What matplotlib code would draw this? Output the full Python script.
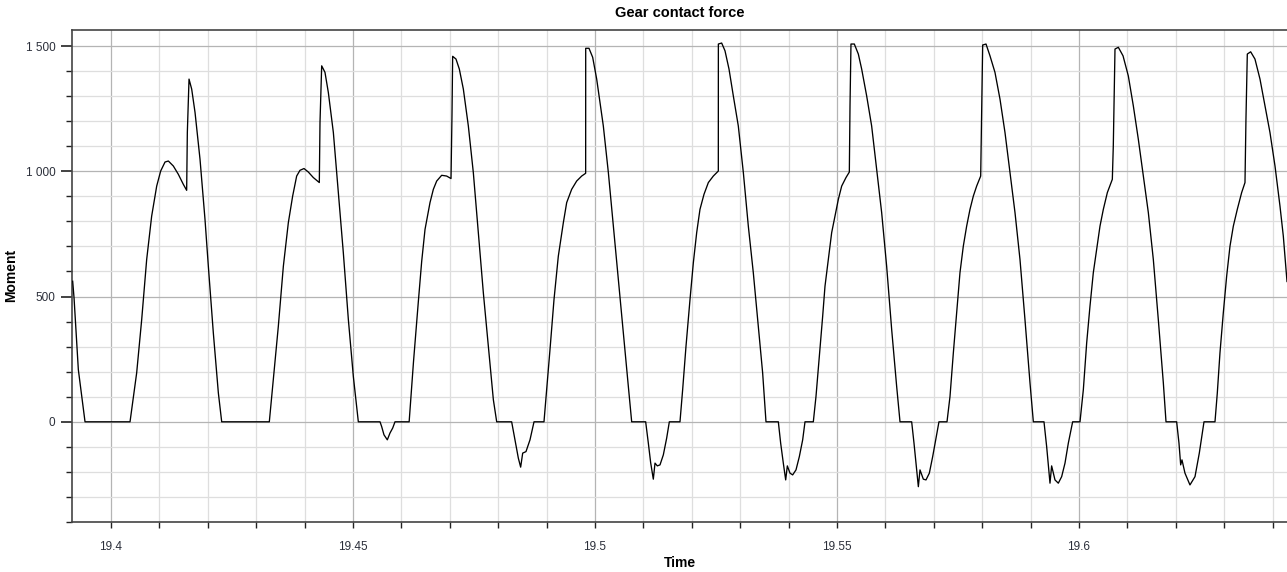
import matplotlib
matplotlib.use("Agg")
import matplotlib.pyplot as plt
from matplotlib.ticker import MultipleLocator, FuncFormatter

title = "Gear contact force"
x_label = "Time"
y_label = "Moment"

time = [
    19.39208, 19.39236, 19.39325, 19.39463, 19.40393, 19.40530, 19.40634, 19.40737, 19.40840, 19.40944,
    19.41026, 19.41116, 19.41185, 19.41288, 19.41391, 19.41494, 19.41563, 19.41577, 19.41612, 19.41667,
    19.41736, 19.41839, 19.41942, 19.42011, 19.42114, 19.42218, 19.42287,
    19.43271, 19.43354, 19.43457, 19.43561, 19.43664, 19.43753, 19.43836, 19.43905, 19.43988, 19.44077,
    19.44180, 19.44304, 19.44318, 19.44353, 19.44421, 19.44490, 19.44594, 19.44697, 19.44800, 19.44904,
    19.45007, 19.45110, 19.45558, 19.45592, 19.45640, 19.45709, 19.45764, 19.45820, 19.45868,
    19.46160, 19.46250, 19.46350, 19.46419, 19.46488, 19.46591, 19.46660, 19.46729, 19.46832, 19.46935,
    19.47025, 19.47045, 19.47059, 19.47128, 19.47197, 19.47280, 19.47383, 19.47486, 19.47590, 19.47693,
    19.47796, 19.47900, 19.47969, 19.48278, 19.48347, 19.48416, 19.48464, 19.48506, 19.48574, 19.48657,
    19.48740, 19.48946, 19.49002, 19.49070, 19.49153, 19.49242, 19.49346, 19.49415, 19.49518, 19.49621,
    19.49725, 19.49807, 19.49808, 19.49876, 19.49952, 19.50035, 19.50172, 19.50276, 19.50379, 19.50482,
    19.50586, 19.50689, 19.50758, 19.51047, 19.51102, 19.51150, 19.51205, 19.51240, 19.51288, 19.51343,
    19.51412, 19.51481, 19.51536, 19.51756, 19.51811, 19.51880, 19.51963, 19.52032, 19.52101, 19.52169,
    19.52252, 19.52342, 19.52445, 19.52548, 19.52549, 19.52617, 19.52686, 19.52769, 19.52858, 19.52961,
    19.53065, 19.53168, 19.53271, 19.53375, 19.53464, 19.53533, 19.53788, 19.53836, 19.53891, 19.53940,
    19.53974, 19.54029, 19.54084, 19.54153, 19.54222, 19.54291, 19.54339, 19.54511, 19.54566, 19.54635,
    19.54704, 19.54752, 19.54821, 19.54890, 19.54959, 19.55028, 19.55097, 19.55186, 19.55255, 19.55269,
    19.55289, 19.55358, 19.55441, 19.55510, 19.55613, 19.55716, 19.55820, 19.55923, 19.56026, 19.56130,
    19.56233, 19.56302, 19.56543, 19.56591, 19.56646, 19.56681, 19.56715, 19.56784, 19.56839, 19.56908,
    19.56977, 19.57045, 19.57107, 19.57273, 19.57335, 19.57404, 19.57473, 19.57541, 19.57610, 19.57679,
    19.57748, 19.57817, 19.57886, 19.57969, 19.57989, 19.58010, 19.58079, 19.58161, 19.58264, 19.58368,
    19.58471, 19.58574, 19.58678, 19.58781, 19.58884, 19.58988, 19.59057, 19.59277, 19.59332, 19.59401,
    19.59435, 19.59504, 19.59573, 19.59642, 19.59711, 19.59780, 19.59869, 19.60021, 19.60090, 19.60159,
    19.60227, 19.60296, 19.60365, 19.60434, 19.60503, 19.60586, 19.60689, 19.60709, 19.60744, 19.60813,
    19.60910, 19.61019, 19.61123, 19.61226, 19.61329, 19.61433, 19.61536, 19.61639, 19.61743, 19.61798,
    19.62018, 19.62066, 19.62101, 19.62128, 19.62190, 19.62293, 19.62397, 19.62486, 19.62583, 19.62810,
    19.62858, 19.62913, 19.62982, 19.63051, 19.63120, 19.63189, 19.63271, 19.63361, 19.63430, 19.63450,
    19.63478, 19.63547, 19.63636, 19.63740, 19.63843, 19.63946, 19.64050, 19.64153, 19.64222, 19.64298,
]

moment = [
    561, 495, 208, 0, 0, 195, 408, 648, 821, 941,
    1001, 1037, 1041, 1021, 988, 948, 924, 1155, 1368, 1328,
    1235, 1048, 808, 621, 355, 115, 0,
    0, 168, 381, 621, 795, 901, 981, 1004, 1011, 997,
    975, 955, 1195, 1421, 1395, 1315, 1155, 915, 675, 408,
    181, 0, 0, -19, -52, -72, -45, -25, 0,
    0, 240, 480, 640, 768, 875, 928, 961, 984, 981,
    971, 1221, 1459, 1448, 1408, 1328, 1181, 995, 755, 515,
    301, 88, 0, 0, -72, -145, -181, -125, -119, -72,
    0, 0, 128, 288, 488, 661, 795, 875, 928, 961,
    981, 992, 1491, 1491, 1455, 1368, 1181, 995, 781, 568,
    355, 141, 0, 0, -85, -163, -229, -165, -176, -172,
    -132, -65, 0, 0, 128, 301, 488, 635, 755, 848,
    908, 955, 981, 1001, 1508, 1512, 1481, 1408, 1301, 1181,
    995, 781, 595, 381, 195, 0, 0, -85, -165, -232,
    -176, -205, -212, -192, -139, -72, 0, 0, 101, 261,
    421, 541, 648, 755, 821, 888, 941, 975, 997, 1261,
    1508, 1508, 1468, 1408, 1301, 1181, 1008, 835, 621, 368,
    141, 0, 0, -85, -192, -259, -192, -229, -232, -205,
    -139, -65, 0, 0, 101, 275, 435, 595, 701, 781,
    848, 901, 941, 981, 1248, 1504, 1508, 1461, 1395, 1288,
    1155, 995, 835, 648, 408, 155, 0, 0, -99, -245,
    -176, -232, -245, -219, -165, -85, 0, 0, 128, 315,
    461, 595, 688, 781, 848, 915, 968, 1101, 1488, 1495,
    1461, 1381, 1261, 1128, 981, 835, 648, 408, 155, 0,
    0, -85, -172, -152, -205, -252, -219, -125, 0, 0,
    115, 275, 435, 581, 701, 781, 848, 915, 955, 1208,
    1468, 1477, 1448, 1368, 1261, 1155, 1021, 861, 741, 560,
]

x_major_ticks = [19.4, 19.45, 19.5, 19.55, 19.6]
x_tick_labels = ["19.4", "19.45", "19.5", "19.55", "19.6"]
y_major_ticks = [0, 500, 1000, 1500]
y_tick_labels = ["0", "500", "1 000", "1 500"]

plt.rcParams['font.family'] = ['Liberation Sans', 'DejaVu Sans']

W, H = 1287, 572
fig = plt.figure(figsize=(W / 100, H / 100), dpi=100)
ax = fig.add_axes([72 / W, 1 - 522 / H, (W - 72) / W, (522 - 30) / H])

ax.plot(time, moment, color="black", linewidth=0.95, zorder=3)

ax.set_xlim(19.39194, 19.64298)
ax.set_ylim(-400, 1564)

ax.set_xticks(x_major_ticks)
ax.set_xticklabels(x_tick_labels)
ax.set_yticks(y_major_ticks)
ax.set_yticklabels(y_tick_labels)
ax.xaxis.set_minor_locator(MultipleLocator(0.01))
ax.yaxis.set_minor_locator(MultipleLocator(100))

ax.grid(which="major", color="#b4b4b4", linewidth=0.9, zorder=0)
ax.grid(which="minor", color="#dedede", linewidth=0.9, zorder=0)
ax.set_axisbelow(True)

label_color = "#2b2f3a"
ax.tick_params(axis="y", which="major", length=8, width=1.2, color="#222222",
               labelsize=8.5, labelcolor=label_color, pad=4)
ax.tick_params(axis="y", which="minor", length=4.5, width=1.0, color="#222222")
ax.tick_params(axis="x", which="major", length=4.5, width=1.0, color="#222222",
               labelsize=8.5, labelcolor=label_color, pad=9)
ax.tick_params(axis="x", which="minor", length=4.5, width=1.0, color="#222222")

for side in ("left", "bottom", "top"):
    ax.spines[side].set_color("#444444")
    ax.spines[side].set_linewidth(1.2)
ax.spines["right"].set_visible(False)

fig.text((72 + W) / 2 / W, 1 - 13 / H, title, ha="center", va="center",
         fontsize=10.5, fontweight="bold")
fig.text((72 + W) / 2 / W, 1 - 563 / H, x_label, ha="center", va="center",
         fontsize=10, fontweight="bold")
fig.text(11 / W, 1 - 275 / H, y_label, ha="center", va="center",
         rotation=90, fontsize=10, fontweight="bold")

fig.savefig("out.png", dpi=100)
